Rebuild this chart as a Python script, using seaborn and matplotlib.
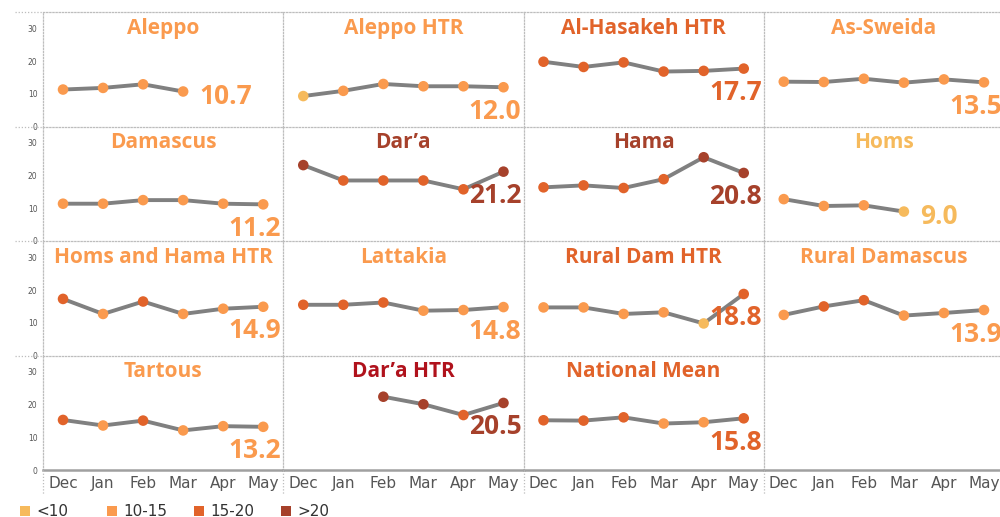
import matplotlib
matplotlib.use('Agg')
import matplotlib.pyplot as plt
import seaborn as sns
import pandas as pd
from matplotlib.lines import Line2D
from matplotlib.patches import Rectangle

# --- data ---
months = ['Dec', 'Jan', 'Feb', 'Mar', 'Apr', 'May']
regions = ['Aleppo', 'Aleppo HTR', 'Al-Hasakeh HTR', 'As-Sweida',
           'Damascus', 'Dar’a', 'Hama', 'Homs',
           'Homs and Hama HTR', 'Lattakia', 'Rural Dam HTR', 'Rural Damascus',
           'Tartous', 'Dar’a HTR', 'National Mean']

aleppo = [11.3, 11.8, 12.9, 10.7, None, None]
aleppo_htr = [9.3, 10.9, 13.0, 12.3, 12.3, 12.0]
hasakeh_htr = [19.8, 18.2, 19.6, 16.8, 17.0, 17.7]
sweida = [13.7, 13.6, 14.6, 13.4, 14.4, 13.5]
damascus = [11.4, 11.4, 12.5, 12.5, 11.4, 11.2]
daraa = [23.2, 18.5, 18.5, 18.5, 15.8, 21.2]
hama = [16.4, 17.0, 16.2, 18.9, 25.6, 20.8]
homs = [12.8, 10.7, 10.9, 9.0, None, None]
homs_hama_htr = [17.3, 12.7, 16.5, 12.7, 14.3, 14.9]
lattakia = [15.5, 15.5, 16.2, 13.7, 13.9, 14.8]
rural_dam_htr = [14.7, 14.7, 12.7, 13.2, 9.8, 18.8]
rural_damascus = [12.4, 15.0, 16.9, 12.2, 13.0, 13.9]
tartous = [15.3, 13.6, 15.1, 12.1, 13.4, 13.2]
daraa_htr = [None, None, 22.4, 20.1, 16.8, 20.5]
national_mean = [15.2, 15.1, 16.1, 14.2, 14.6, 15.8]

series = [aleppo, aleppo_htr, hasakeh_htr, sweida,
          damascus, daraa, hama, homs,
          homs_hama_htr, lattakia, rural_dam_htr, rural_damascus,
          tartous, daraa_htr, national_mean]

bands = ['<10', '10-15', '15-20', '>20']
band_colors = {'<10': '#F6BA5C', '10-15': '#FA9A4E', '15-20': '#E1632A', '>20': '#A6412B'}
title_override = {'Dar’a HTR': '#B0121C'}


def band_of(v):
    if v < 10:
        return '<10'
    if v < 15:
        return '10-15'
    if v <= 20:
        return '15-20'
    return '>20'


rows = []
for r, vals in zip(regions, series):
    for mi, v in enumerate(vals):
        if v is not None:
            rows.append({'region': r, 'mi': mi, 'value': v, 'band': band_of(v)})
df = pd.DataFrame(rows)

sns.set_style('white')
plt.rcParams['font.family'] = ['DejaVu Sans']

fig, axes = plt.subplots(4, 4, figsize=(10, 5.17), dpi=100, sharex=True, sharey=True)
fig.subplots_adjust(left=0.043, right=1.004, top=1 - 12 / 517, bottom=1 - 470 / 517,
                    hspace=0, wspace=0)

grid_c = '#BDBDBD'
for i, ax in enumerate(axes.flat):
    row, col = divmod(i, 4)
    ax.set_xlim(-0.5, 5.5)
    ax.set_ylim(0, 35)
    for s in ['top', 'left']:
        ax.spines[s].set_visible(True)
        ax.spines[s].set_linestyle((0, (1, 1.5)))
        ax.spines[s].set_color(grid_c)
        ax.spines[s].set_linewidth(0.9)
    ax.spines['right'].set_visible(False)
    if row == 3:
        ax.spines['bottom'].set_visible(True)
        ax.spines['bottom'].set_color('#A0A0A0')
        ax.spines['bottom'].set_linewidth(1.8)
    else:
        ax.spines['bottom'].set_visible(False)
    ax.set_xticks(range(6))
    ax.set_xticklabels(months)
    ax.set_xticks([x - 0.5 for x in range(7)], minor=True)
    ax.set_yticks([0, 10, 20, 30])
    ax.tick_params(axis='x', which='major', length=0, labelsize=11, labelcolor='#555555', pad=4)
    ax.tick_params(axis='x', which='minor', length=4 if row == 3 else 0, color='#C8C8C8')
    ax.tick_params(axis='y', length=2.5 if col == 0 else 0, color='#AAAAAA',
                   labelsize=5.5, labelcolor='#555555', pad=1.5)
    ax.set_xlabel('')
    ax.set_ylabel('')

    if i >= len(regions):
        continue
    name = regions[i]
    sub = df[df['region'] == name]
    sns.lineplot(data=sub, x='mi', y='value', ax=ax, color='#808080', lw=2.8,
                 legend=False, zorder=2)
    sns.scatterplot(data=sub, x='mi', y='value', hue='band', palette=band_colors,
                    hue_order=bands, s=58, edgecolor='none', legend=False, ax=ax, zorder=3)
    ax.set_xlabel('')
    ax.set_ylabel('')

    last = sub.iloc[-1]
    lab_color = band_colors[last['band']]
    ax.text(2.5, 30, name, ha='center', va='center', fontsize=15, fontweight='bold',
            family='Open Sans', color=title_override.get(name, lab_color))
    if last['mi'] < 5:
        ax.annotate(f"{last['value']:.1f}", (last['mi'], last['value']),
                    xytext=(16, -5), textcoords='offset pixels', ha='left', va='center',
                    fontsize=19, fontweight='bold', family='Open Sans', color=lab_color)
    else:
        ax.annotate(f"{last['value']:.1f}", (last['mi'], last['value']),
                    xytext=(18, -24), textcoords='offset pixels', ha='right', va='center',
                    fontsize=19, fontweight='bold', family='Open Sans', color=lab_color)

# dotted guide lines outside the panes
for r in range(4):
    y = axes[r, 0].get_position().y1
    fig.add_artist(Line2D([0.015, 0.043], [y, y], transform=fig.transFigure,
                          color=grid_c, lw=0.9, ls=(0, (1, 1.5))))
for c in range(4):
    x = axes[3, c].get_position().x0
    fig.add_artist(Line2D([x, x], [1 - 470 / 517, 1 - 494 / 517], transform=fig.transFigure,
                          color=grid_c, lw=0.9, ls=(0, (1, 1.5))))

# legend
for k, b in enumerate(bands):
    x0 = 0.020 + k * 0.087
    fig.add_artist(Rectangle((x0, 1 - 516 / 517), 0.010, 10 / 517, transform=fig.transFigure,
                             color=band_colors[b], lw=0))
    fig.text(x0 + 0.016, 1 - 511 / 517, b, ha='left', va='center', fontsize=11,
             color='#333333')

plt.savefig('out.png', dpi=100)
plt.close()
